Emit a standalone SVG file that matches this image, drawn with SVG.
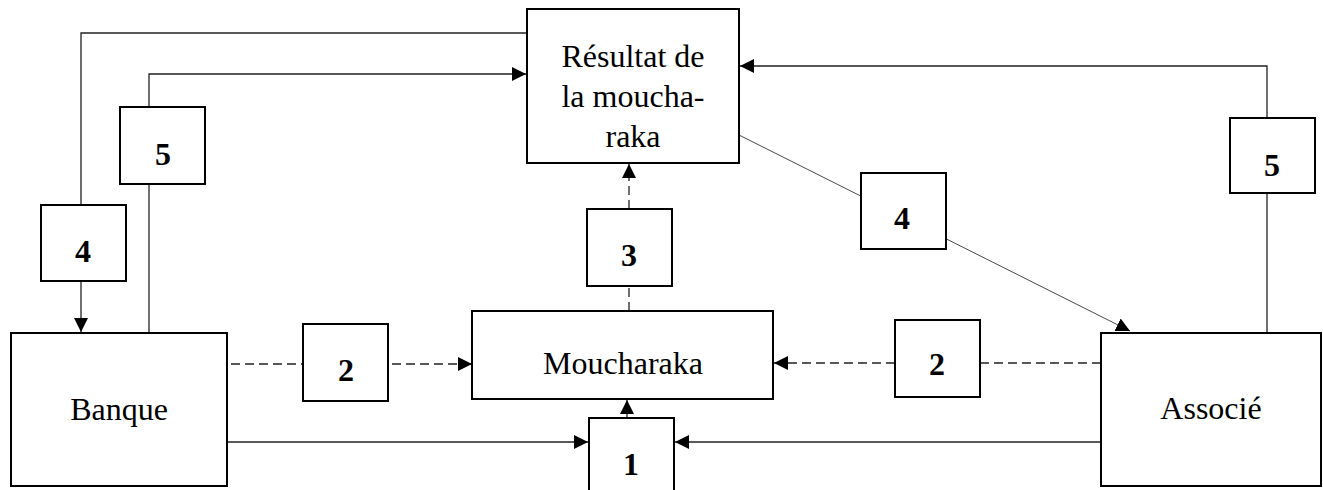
<svg xmlns="http://www.w3.org/2000/svg" width="1323" height="490" viewBox="0 0 1323 490">
  <style>
    .box { fill: #fff; stroke: #000; stroke-width: 2; }
    .lbl { font-family: "Liberation Serif", "Times New Roman", serif; font-size: 32px; fill: #000; text-anchor: middle; }
    .num { font-family: "Liberation Serif", "Times New Roman", serif; font-size: 32px; font-weight: bold; fill: #000; text-anchor: middle; }
    .ln { fill: none; stroke: #222; stroke-width: 1.3; }
    .dash { fill: none; stroke: #222; stroke-width: 1.3; stroke-dasharray: 9 5; }
    .thin { fill: none; stroke: #333; stroke-width: 0.9; }
  </style>
  <defs>
    <marker id="arrow" markerUnits="userSpaceOnUse" markerWidth="14" markerHeight="14" refX="14" refY="7" orient="auto">
      <path d="M0,0 L14,7 L0,14 Z" fill="#000"/>
    </marker>
  </defs>
  <rect width="1323" height="490" fill="#fff"/>

  <g id="connectors">
    <!-- 4 : result back to the bank -->
    <polyline class="ln" points="527,33 81,33 81,205"/>
    <line class="ln" x1="81" y1="281" x2="81" y2="332" marker-end="url(#arrow)"/>
    <!-- 5 : bank share of the result -->
    <line class="ln" x1="149" y1="333" x2="149" y2="184"/>
    <polyline class="ln" points="149,107 149,74 526,74" marker-end="url(#arrow)"/>
    <!-- 5 : partner share of the result -->
    <line class="ln" x1="1267" y1="333" x2="1267" y2="193"/>
    <polyline class="ln" points="1267,118 1267,66 740,66" marker-end="url(#arrow)"/>
    <!-- 4 : result to the partner -->
    <line class="thin" x1="739" y1="135" x2="1130" y2="331" marker-end="url(#arrow)"/>
    <!-- 2 : contributions -->
    <line class="dash" x1="231" y1="364" x2="303" y2="364"/>
    <line class="dash" x1="392" y1="364" x2="472" y2="364" marker-end="url(#arrow)"/>
    <line class="dash" x1="1101" y1="363" x2="980" y2="363"/>
    <line class="dash" x1="895" y1="363" x2="774" y2="363" marker-end="url(#arrow)"/>
    <!-- 3 : moucharaka to result -->
    <line class="dash" x1="629" y1="311" x2="629" y2="286"/>
    <line class="dash" x1="629" y1="209" x2="629" y2="164" marker-end="url(#arrow)"/>
    <!-- 1 : contract -->
    <line class="ln" x1="227" y1="442" x2="588" y2="442" marker-end="url(#arrow)"/>
    <line class="ln" x1="1101" y1="442" x2="675" y2="442" marker-end="url(#arrow)"/>
    <line class="ln" x1="627" y1="418" x2="627" y2="400" marker-end="url(#arrow)"/>
  </g>

  <g id="resultat">
    <rect class="box" x="527" y="9" width="212" height="154"/>
    <text class="lbl" x="633" y="67">Résultat de</text>
    <text class="lbl" x="633" y="107">la moucha-</text>
    <text class="lbl" x="633" y="147">raka</text>
  </g>
  <g id="moucharaka">
    <rect class="box" x="472" y="311" width="301" height="88"/>
    <text class="lbl" x="623" y="374">Moucharaka</text>
  </g>
  <g id="banque">
    <rect class="box" x="11" y="333" width="216" height="153"/>
    <text class="lbl" x="119" y="420">Banque</text>
  </g>
  <g id="associe">
    <rect class="box" x="1101" y="333" width="220" height="153"/>
    <text class="lbl" x="1211" y="419">Associé</text>
  </g>
  <g id="step5-left">
    <rect class="box" x="120" y="107" width="85" height="77"/>
    <text class="num" x="163" y="165">5</text>
  </g>
  <g id="step4-left">
    <rect class="box" x="41" y="205" width="85" height="76"/>
    <text class="num" x="83" y="262">4</text>
  </g>
  <g id="step5-right">
    <rect class="box" x="1230" y="118" width="85" height="75"/>
    <text class="num" x="1272" y="176">5</text>
  </g>
  <g id="step4-mid">
    <rect class="box" x="861" y="173" width="85" height="76"/>
    <text class="num" x="902" y="229">4</text>
  </g>
  <g id="step3">
    <rect class="box" x="587" y="209" width="85" height="77"/>
    <text class="num" x="629" y="266">3</text>
  </g>
  <g id="step2-left">
    <rect class="box" x="303" y="324" width="85" height="77"/>
    <text class="num" x="346" y="381">2</text>
  </g>
  <g id="step2-right">
    <rect class="box" x="895" y="320" width="85" height="77"/>
    <text class="num" x="937" y="375">2</text>
  </g>
  <g id="step1">
    <rect class="box" x="589" y="418" width="85" height="80"/>
    <text class="num" x="631" y="475">1</text>
  </g>
</svg>
